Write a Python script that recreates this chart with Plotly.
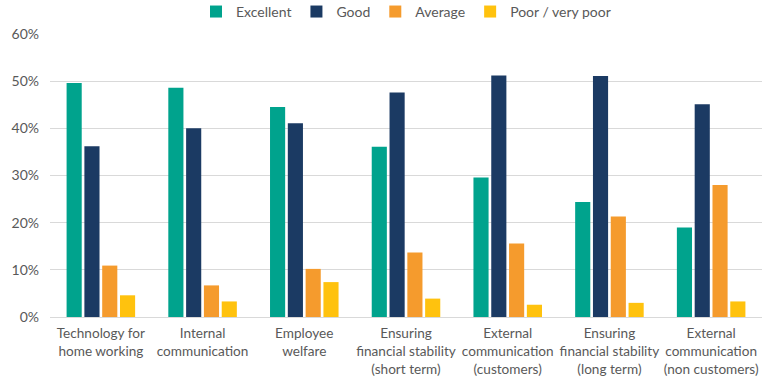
import plotly.graph_objects as go

categories = [
    "Technology for<br>home working",
    "Internal<br>communication",
    "Employee<br>welfare",
    "Ensuring<br>financial stability<br>(short term)",
    "External<br>communication<br>(customers)",
    "Ensuring<br>financial stability<br>(long term)",
    "External<br>communication<br>(non customers)",
]
excellent = [49.6, 48.6, 44.5, 36.1, 29.6, 24.4, 19.0]
good = [36.2, 40.0, 41.1, 47.6, 51.2, 51.1, 45.1]
average = [10.9, 6.7, 10.2, 13.7, 15.6, 21.3, 28.0]
poor = [4.6, 3.3, 7.4, 3.9, 2.6, 3.0, 3.3]

series = [
    ("Excellent", excellent, "#00A38D"),
    ("Good", good, "#1B3A63"),
    ("Average", average, "#F59B2D"),
    ("Poor / very poor", poor, "#FFC20E"),
]

fig = go.Figure()
for name, vals, color in series:
    fig.add_trace(go.Bar(x=categories, y=vals, name=name, marker_color=color,
                         marker_line_width=0))

font_fam = "Lato, 'Open Sans', sans-serif"
fig.update_layout(
    width=779, height=386,
    margin=dict(l=50, r=17, t=34, b=69, autoexpand=False),
    paper_bgcolor="white", plot_bgcolor="white",
    barmode="group", bargap=0.3, bargroupgap=0.15,
    font=dict(family=font_fam, size=14, color="#595959"),
    legend=dict(orientation="h", x=0.5, xanchor="center", y=1.078, yanchor="middle",
                font=dict(size=14, color="#595959"), itemwidth=30,
                traceorder="normal"),
    showlegend=True,
)
fig.update_yaxes(range=[0, 60], dtick=10, ticksuffix="%", showgrid=True,
                 gridcolor="#d9d9d9", gridwidth=1, zeroline=False,
                 ticklabelstandoff=10,
                 tickfont=dict(size=14, color="#595959"))
fig.update_xaxes(showline=True, linecolor="#d9d9d9", linewidth=1,
                 ticklabelstandoff=4,
                 tickfont=dict(size=13.6, color="#595959"), tickangle=0)

fig.write_html("out.html", config={"displayModeBar": False},
               post_script="document.body.style.margin='0';")
